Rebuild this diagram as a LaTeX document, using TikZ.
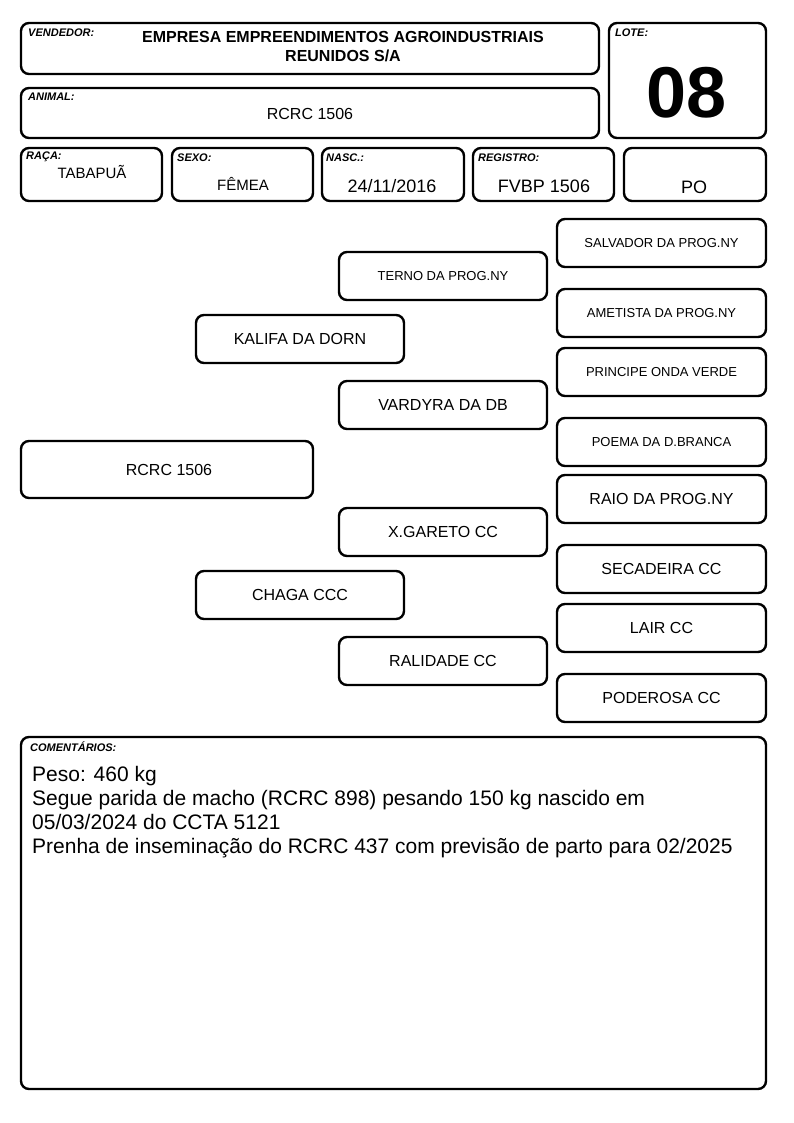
\documentclass[tikz,border=0pt]{standalone}
\usepackage{fontspec}
\setmainfont{Liberation Sans}
\begin{document}
\begin{tikzpicture}[x=1pt,y=-1pt,
  card/.style={draw,line width=2.4pt,rounded corners=8pt},
  lbl/.style={anchor=north west,inner sep=0pt,font=\fontsize{11}{12}\selectfont\bfseries\itshape},
  ped/.style={font=\fontsize{16}{18}\selectfont},
  peds/.style={font=\fontsize{13}{15}\selectfont},
  val/.style={font=\fontsize{18}{20}\selectfont}]
\useasboundingbox (0,0) rectangle (794,1123);
% header boxes
\draw[card] (21,23) rectangle (599,74);
\node[lbl] (lv) at (28,29) {VENDEDOR:};
\node[align=center,inner sep=0pt,font=\fontsize{16}{19}\selectfont\bfseries] (vend) at (343,47) {EMPRESA EMPREENDIMENTOS AGROINDUSTRIAIS\\REUNIDOS S/A};
\draw[card] (609,23) rectangle (766,138);
\node[lbl] (ll) at (615,29) {LOTE:};
\node[inner sep=0pt,font=\fontsize{72}{72}\selectfont\bfseries] (lote) at (687,93) {08};
\draw[card] (21,88) rectangle (599,138);
\node[lbl] (la) at (28,93) {ANIMAL:};
\node[ped,inner sep=0pt] (anim) at (310,114) {RCRC 1506};
\draw[card] (21,148) rectangle (162,201);
\node[lbl] (lr) at (26,152) {RAÇA:};
\node[inner sep=0pt,font=\fontsize{15}{17}\selectfont] (raca) at (92,172) {TABAPUÃ};
\draw[card] (172,148) rectangle (313,201);
\node[lbl] (ls) at (177,154) {SEXO:};
\node[inner sep=0pt,font=\fontsize{15}{17}\selectfont] (sexo) at (243,184) {FÊMEA};
\draw[card] (322,148) rectangle (464,201);
\node[lbl] (ln) at (326,154) {NASC.:};
\node[val,inner sep=0pt] (nasc) at (392,186) {24/11/2016};
\draw[card] (473,148) rectangle (614,201);
\node[lbl] (lg) at (478,154) {REGISTRO:};
\node[val,inner sep=0pt] (reg) at (544,186) {FVBP 1506};
\draw[card] (624,148) rectangle (766,201);
\node[val,inner sep=0pt] (po) at (694,187) {PO};
% pedigree
\draw[card] (557,219) rectangle (766,267) node[peds,midway] (p1) {SALVADOR DA PROG.NY};
\draw[card] (339,252) rectangle (547,300) node[peds,midway] (g1) {TERNO DA PROG.NY};
\draw[card] (557,289) rectangle (766,337) node[peds,midway] (p2) {AMETISTA DA PROG.NY};
\draw[card] (196,315) rectangle (404,363) node[ped,midway] (f1) {KALIFA DA DORN};
\draw[card] (557,348) rectangle (766,396) node[peds,midway] (p3) {PRINCIPE ONDA VERDE};
\draw[card] (339,381) rectangle (547,429) node[ped,midway] (g2) {VARDYRA DA DB};
\draw[card] (557,418) rectangle (766,466) node[peds,midway] (p4) {POEMA DA D.BRANCA};
\draw[card] (21,441) rectangle (313,498) node[ped,midway,xshift=2pt] (me) {RCRC 1506};
\draw[card] (557,475) rectangle (766,523) node[ped,midway] (p5) {RAIO DA PROG.NY};
\draw[card] (339,508) rectangle (547,556) node[ped,midway] (g3) {X.GARETO CC};
\draw[card] (557,545) rectangle (766,593) node[ped,midway] (p6) {SECADEIRA CC};
\draw[card] (196,571) rectangle (404,619) node[ped,midway] (f2) {CHAGA CCC};
\draw[card] (557,604) rectangle (766,652) node[ped,midway] (p7) {LAIR CC};
\draw[card] (339,637) rectangle (547,685) node[ped,midway] (g4) {RALIDADE CC};
\draw[card] (557,674) rectangle (766,722) node[ped,midway] (p8) {PODEROSA CC};
% comments
\draw[card] (21,737) rectangle (766,1089);
\node[lbl] (lc) at (30,742) {COMENTÁRIOS:};
\node[anchor=north west,inner sep=0pt,align=left,font=\fontsize{21}{24}\selectfont] (com) at (32,766) {Peso: 460 kg\\Segue parida de macho (RCRC 898) pesando 150 kg nascido em\\05/03/2024 do CCTA 5121\\Prenha de inseminação do RCRC 437 com previsão de parto para 02/2025};
\end{tikzpicture}
\end{document}
